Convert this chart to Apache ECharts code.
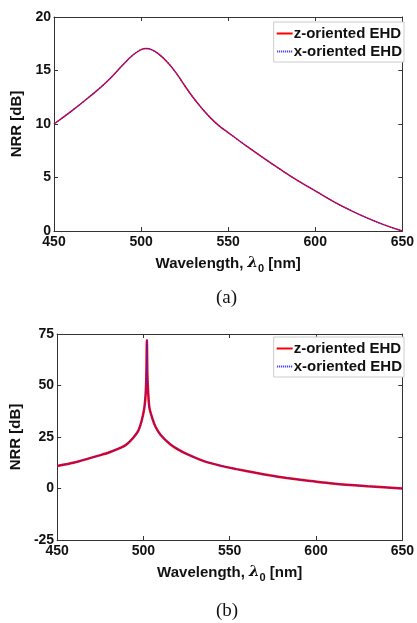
<!DOCTYPE html>
<html>
<head>
<meta charset="utf-8">
<script src="https://cdn.jsdelivr.net/npm/echarts@6/dist/echarts.min.js"></script>
<style>
  html, body { margin: 0; padding: 0; background: #fff; }
  #chart { width: 417px; height: 623px; }
</style>
</head>
<body>
<div id="chart"></div>
<script>
// panel (a): wavelength [nm] and NRR [dB]
// (z- and x-oriented curves sit on top of each other)
const wlA  = [450, 460, 470, 480, 490, 495, 500, 503, 506, 510, 515, 520, 525, 530, 535, 540, 545, 550, 555, 560, 570, 580, 590, 600, 610, 620, 630, 640, 650];
const nrrA = [10.0, 11.2, 12.5, 13.9, 15.6, 16.4, 16.95, 17.05, 16.95, 16.55, 15.8, 14.8, 13.6, 12.45, 11.45, 10.55, 9.8, 9.2, 8.6, 8.0, 6.85, 5.75, 4.7, 3.75, 2.8, 1.95, 1.2, 0.55, 0];

// panel (b): sharp resonance near 502 nm
const wlB  = [450, 460, 468, 475, 480, 487, 490, 494, 497, 499, 500.5, 501.3, 501.7, 502, 502.3, 502.8, 503.5, 505.3, 507, 510, 515.5, 520, 525, 535, 545, 554, 565, 573, 583, 592, 611, 630, 650];
const nrrB = [10.9, 12.6, 14.5, 16.2, 17.5, 19.8, 21.2, 24.5, 28, 33, 39, 46, 55, 72, 55, 46, 39, 33.7, 30, 26, 21.5, 19, 16.8, 13.3, 11.0, 9.4, 7.6, 6.4, 5.1, 4.1, 2.3, 1.1, 0];

const seriesNames = ["z-oriented EHD", "x-oriented EHD"];
const xRange = [450, 650];
const yRangeA = [0, 20];
const yRangeB = [-25, 75];

const chart = echarts.init(document.getElementById("chart"));

const font = "Liberation Sans, Arial, sans-serif";
const axisCol = "#333";

// legend icons: solid bar and a row of dots
const solidIcon = "path://M0,0h16v2h-16z";
const dotIcon = "path://M0,0h1v2h-1z M2,0h1v2h-1z M4,0h1v2h-1z M6,0h1v2h-1z M8,0h1v2h-1z M10,0h1v2h-1z M12,0h1v2h-1z M14,0h1v2h-1z";

function pairs(xs, ys) {
  return xs.map((x, i) => [x, ys[i]]);
}

function xAxes(gridIndex) {
  return [
    {
      gridIndex,
      type: "value",
      min: xRange[0],
      max: xRange[1],
      interval: 50,
      name: "Wavelength, {l|λ}{s|0} [nm]",
      nameLocation: "middle",
      nameGap: 22,
      nameTextStyle: {
        fontFamily: font,
        fontWeight: "bold",
        fontSize: 15,
        color: "#111",
        rich: {
          l: { fontFamily: "DejaVu Serif", fontStyle: "italic", fontSize: 15, color: "#111" },
          s: { fontFamily: font, fontWeight: "bold", fontSize: 11, color: "#111", padding: [10, 0, 0, 0] },
        },
      },
      axisLine: { show: true, onZero: false, lineStyle: { color: axisCol, width: 1 } },
      axisTick: { show: true, inside: true, length: 4, lineStyle: { color: axisCol } },
      axisLabel: { show: true, margin: 4, fontFamily: font, fontWeight: "bold", fontSize: 14, color: "#111" },
      splitLine: { show: false },
    },
    {
      gridIndex,
      type: "value",
      position: "top",
      min: xRange[0],
      max: xRange[1],
      interval: 50,
      axisLine: { show: true, onZero: false, lineStyle: { color: axisCol, width: 1 } },
      axisTick: { show: true, inside: true, length: 4, lineStyle: { color: axisCol } },
      axisLabel: { show: false },
      splitLine: { show: false },
    },
  ];
}

function yAxes(gridIndex, range, interval) {
  return [
    {
      gridIndex,
      type: "value",
      min: range[0],
      max: range[1],
      interval,
      name: "NRR [dB]",
      nameLocation: "middle",
      nameGap: 21,
      nameTextStyle: { fontFamily: font, fontWeight: "bold", fontSize: 15, color: "#111" },
      axisLine: { show: true, onZero: false, lineStyle: { color: axisCol, width: 1 } },
      axisTick: { show: true, inside: true, length: 4, lineStyle: { color: axisCol } },
      axisLabel: { show: true, margin: 3, fontFamily: font, fontWeight: "bold", fontSize: 14, color: "#111" },
      splitLine: { show: false },
    },
    {
      gridIndex,
      type: "value",
      position: "right",
      min: range[0],
      max: range[1],
      interval,
      axisLine: { show: true, onZero: false, lineStyle: { color: axisCol, width: 1 } },
      axisTick: { show: true, inside: true, length: 4, lineStyle: { color: axisCol } },
      axisLabel: { show: false },
      splitLine: { show: false },
    },
  ];
}

function legend(top) {
  return {
    data: [
      { name: seriesNames[0], icon: solidIcon },
      { name: seriesNames[1], icon: dotIcon },
    ],
    orient: "vertical",
    right: 13,
    top,
    itemWidth: 16,
    itemHeight: 2,
    itemGap: 3,
    padding: [4, 2, 3, 3],
    borderColor: "#ccc",
    borderWidth: 1,
    backgroundColor: "#fff",
    textStyle: { fontFamily: font, fontWeight: "bold", fontSize: 15, color: "#111", padding: [0, 0, 0, -4] },
  };
}

function lines(xIdx, yIdx, xs, ys, redWidth, smooth) {
  return [
    {
      name: seriesNames[0],
      type: "line",
      xAxisIndex: xIdx,
      yAxisIndex: yIdx,
      data: pairs(xs, ys),
      symbol: "none",
      smooth,
      lineStyle: { color: "#ff0000", width: redWidth },
      itemStyle: { color: "#ff0000" },
      animation: false,
    },
    {
      name: seriesNames[1],
      type: "line",
      xAxisIndex: xIdx,
      yAxisIndex: yIdx,
      data: pairs(xs, ys),
      symbol: "none",
      smooth,
      lineStyle: { color: "#2020ff", width: 1.2, type: "dotted" },
      itemStyle: { color: "#2020ff" },
      animation: false,
    },
  ];
}

chart.setOption({
  backgroundColor: "#fff",
  animation: false,
  grid: [
    { left: 54, right: 13, top: 17, height: 214 },
    { left: 56, right: 13, top: 334, height: 206 },
  ],
  xAxis: [...xAxes(0), ...xAxes(1)],
  yAxis: [...yAxes(0, yRangeA, 5), ...yAxes(1, yRangeB, 25)],
  legend: [legend(22), legend(337)],
  series: [...lines(0, 0, wlA, nrrA, 1.5, 0.45), ...lines(2, 2, wlB, nrrB, 2.5, 0.25)],
  graphic: [
    {
      type: "text",
      left: 216,
      top: 289,
      style: { text: "(a)", font: "19px Liberation Serif, serif", fill: "#111" },
    },
    {
      type: "text",
      left: 216,
      top: 602,
      style: { text: "(b)", font: "19px Liberation Serif, serif", fill: "#111" },
    },
  ],
});
</script>
</body>
</html>
